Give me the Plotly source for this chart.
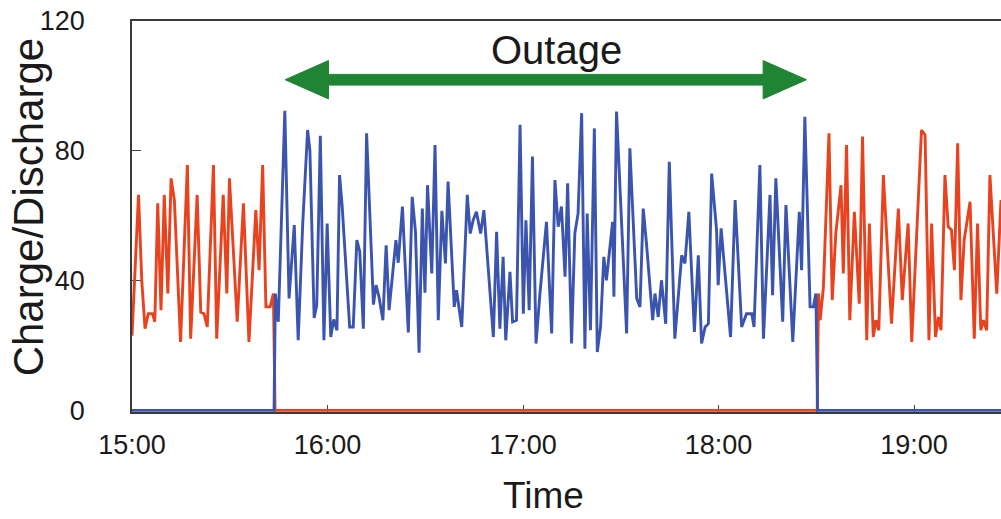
import pandas as pd
import plotly.graph_objects as go

# ---- data (minutes after 15:00, value) ----
red_min = [0, 2, 3, 4, 5, 6.3, 7, 7.9, 8.9, 9.9, 11, 12, 13, 14.9, 17, 18, 20, 21.1, 22.1, 23.1,
           25, 26, 28, 29.1, 29.9, 32.3, 34.2, 35.9, 38, 39, 40.1, 41.1, 42.4, 43.4, 43.9,
           210.3, 210.7, 211.2, 212.2, 213.9, 214.9, 216, 217.6, 218.3, 219.3, 220.3, 221.7,
           223.2, 224.2, 225.5, 226.3, 227.5, 228.3, 229.2, 230.6, 233.1, 235.2, 236.4, 238.2,
           239.3, 242.3, 243.4, 244.6, 245.4, 246.6, 247.5, 248.3, 249.5, 250.5, 251.5, 252.4,
           253.4, 254.4, 255.4, 257.2, 258.5, 259.5, 260.5, 261.3, 262.3, 263.3, 265.4, 266.7]
red_val = [23, 66.4, 40, 25.2, 29.8, 29.8, 27.3, 63.8, 30.9, 66.4, 36, 71.5, 64.8, 21.1, 75.6,
           22.1, 66.4, 30.3, 29.8, 25.7, 75.6, 22.1, 66.4, 36, 71.5, 27.3, 63.8, 21.1, 61.7, 43.2,
           75.6, 31.9, 31.9, 36, 0,
           0, 36, 27.8, 38, 85.4, 34, 54.5, 69.4, 42.2, 81.8, 27.8, 61.2,
           32.9, 84.4, 21.6, 57.6, 22.6, 27.8, 24.7, 72.5, 26.7, 62.2, 34, 57.6,
           21.1, 86.4, 84.9, 21.6, 57.6, 22.6, 28.8, 24.7, 72.5, 56.6, 55.6, 43.2,
           82.3, 34, 52.5, 64.3, 22.1, 57.6, 24.7, 27.8, 24.7, 72.5, 36, 64.8]

blue_min = [0, 43.6, 44.0, 44.9, 46.9, 48.2, 49.8, 51.0, 52.4, 53.9, 54.6, 55.9, 56.7, 57.8,
            58.9, 59.9, 61.0, 61.9, 62.9, 63.7, 64.5, 66.8, 67.9, 69.0, 69.9, 71.0, 72.0, 74.1,
            74.9, 75.8, 77.0, 78.0, 78.9, 81.0, 81.7, 83.0, 84.8, 86.0, 87.0, 88.1, 89.1, 89.9,
            90.7, 92.0, 93.0, 94.0, 95.1, 96.2, 97.0, 98.9, 99.6, 101.2, 102.9, 103.8, 104.7,
            105.7, 107, 108, 110.9, 111.9, 112.9, 113.9, 114.7, 116, 116.8, 118, 119.1, 120.1,
            120.9, 121.9, 122.9, 124, 125.2, 127.2, 128.8, 129.8, 130.8, 131.8, 132.9, 133.7,
            134.9, 135.9, 136.9, 138, 139, 139.7, 140.7, 141.9, 142.8, 143.8, 144.8, 145.6,
            147.5, 147.9, 148.7, 151.8, 152.8, 154.9, 155.9, 156.9, 157.9, 159.8, 160.5, 161.5,
            162.5, 163.8, 164.9, 166.6, 168.7, 169.7, 170.9, 172.6, 173.8, 174.8, 175.9, 176.9,
            177.9, 179.4, 179.9, 180.8, 183.7, 185.1, 187.1, 188.6, 190.2, 190.9, 192.7, 193.8,
            195.8, 196.6, 197.6, 199.7, 200.7, 202.8, 204.8, 205.5, 206.5, 208.1, 209.1, 209.9,
            210.4, 266.7]
blue_val = [0, 0, 36, 27.3, 92.3, 34.5, 57.1, 21.6, 57.6, 86.4, 80, 28.5, 32.4, 84.6,
            21.6, 57.6, 22.6, 28, 24.7, 72.5, 63, 25.7, 25.7, 52.5, 49, 25.2, 85.4, 32.6,
            38.6, 35, 27.8, 50.9, 30.9, 52.5, 45.5, 62.8, 24, 65.8, 55, 17.8, 62.2, 36.3,
            69.4, 42.2, 81.8, 27.8, 61.5, 45.3, 70.5, 31.9, 37, 25.7, 66.4, 54.5, 58.6,
            61.2, 54.5, 61.7, 22.6, 55, 25.2, 47.3, 21.6, 42.7, 27.3, 27.8, 88, 29.8,
            58.6, 30.9, 78.2, 20.6, 36, 58.1, 23.7, 71, 56.6, 62.8, 41.2, 70,
            20.6, 54.5, 60.7, 91.6, 19, 60.7, 24.7, 86.9, 18, 25.7, 47.3, 40.1,
            58.1, 35, 92.1, 23.7, 80.8, 34.5, 31.9, 62.2, 51.4, 27.8, 36, 28.8,
            40.1, 26.7, 76.6, 22.1, 47.8, 45.3, 61.2, 24.2, 47.8, 20.6, 25.7, 26.7,
            73, 55.6, 38.6, 56.1, 22.6, 64.8, 25.7, 29.8, 29.8, 25.7, 75.6, 22.1,
            66.4, 35.5, 71.5, 27.3, 63.3, 21.1, 61.2, 43.2, 90.5, 31.9, 31.9, 36,
            0, 0]

x_tick_min = [0, 60, 120, 180, 240]
x_tick_labels = ["15:00", "16:00", "17:00", "18:00", "19:00"]
y_ticks = [0, 40, 80, 120]
x_end_min = 266.7

# outage arrow (tips, minutes after 15:00) and its level
arrow_start_min = 47
arrow_end_min = 207
arrow_level = 101.9

base = pd.Timestamp("2020-01-01 15:00")


def tt(mins):
    return [base + pd.Timedelta(minutes=m) for m in mins]


RED = "#E8431E"
BLUE = "#3B55AE"
GREEN = "#1F8434"
FONT = "Liberation Sans, Arial, sans-serif"

fig = go.Figure()
fig.add_trace(go.Scatter(x=tt(red_min), y=red_val, mode="lines",
                         line=dict(color=RED, width=2.9), showlegend=False, hoverinfo="skip"))
fig.add_trace(go.Scatter(x=tt(blue_min), y=blue_val, mode="lines",
                         line=dict(color=BLUE, width=2.9), showlegend=False, hoverinfo="skip"))

# double-headed arrow
hl, hh, sh = 13.3, 5.9, 1.65
a0, a1, yc = arrow_start_min, arrow_end_min, arrow_level
poly_min = [a0, a0 + hl, a0 + hl, a1 - hl, a1 - hl, a1, a1 - hl, a1 - hl, a0 + hl, a0 + hl, a0]
poly_y = [yc, yc + hh, yc + sh, yc + sh, yc + hh, yc, yc - hh, yc - sh, yc - sh, yc - hh, yc]
fig.add_trace(go.Scatter(x=tt(poly_min), y=poly_y, mode="lines", fill="toself",
                         fillcolor=GREEN, line=dict(color=GREEN, width=1),
                         showlegend=False, hoverinfo="skip"))

fig.update_layout(
    width=1001, height=519,
    margin=dict(l=132, r=0, t=21, b=107, autoexpand=False),
    paper_bgcolor="white", plot_bgcolor="white",
    font=dict(family=FONT, color="#1a1a1a"),
    showlegend=False,
    xaxis=dict(range=tt([0, x_end_min]), type="date", automargin=False,
               tickvals=tt(x_tick_min), ticktext=x_tick_labels,
               ticks="inside", ticklen=7, tickcolor="#444", tickwidth=1,
               showline=True, linecolor="#3a3a3a", linewidth=1.5, mirror=True,
               showgrid=False, zeroline=False, layer="below traces",
               tickfont=dict(size=27, family=FONT), ticklabelstandoff=8),
    yaxis=dict(range=[-0.5, 120], tickvals=y_ticks, automargin=False,
               ticks="inside", ticklen=9, tickcolor="#444", tickwidth=1,
               showline=True, linecolor="#3a3a3a", linewidth=1.5, mirror=False,
               showgrid=False, zeroline=False, layer="below traces",
               tickfont=dict(size=27, family=FONT), ticklabelstandoff=40),
    annotations=[
        dict(text="Charge/Discharge", xref="paper", yref="paper", x=-0.1197, y=0.526,
             xanchor="center", yanchor="middle", textangle=-90, showarrow=False,
             font=dict(size=42, family=FONT, color="#1a1a1a")),
        dict(text="Time", xref="paper", yref="paper", x=0.474, y=-0.2135,
             xanchor="center", yanchor="middle", showarrow=False,
             font=dict(size=37, family=FONT, color="#1a1a1a")),
        dict(text="Outage", xref="paper", yref="paper", x=0.489, y=0.926,
             xanchor="center", yanchor="middle", showarrow=False,
             font=dict(size=40, family=FONT, color="#1a1a1a")),
    ],
)

fig.write_html("out.html", config={"displayModeBar": False},
               post_script="document.body.style.margin='0';document.body.style.overflow='hidden';")
